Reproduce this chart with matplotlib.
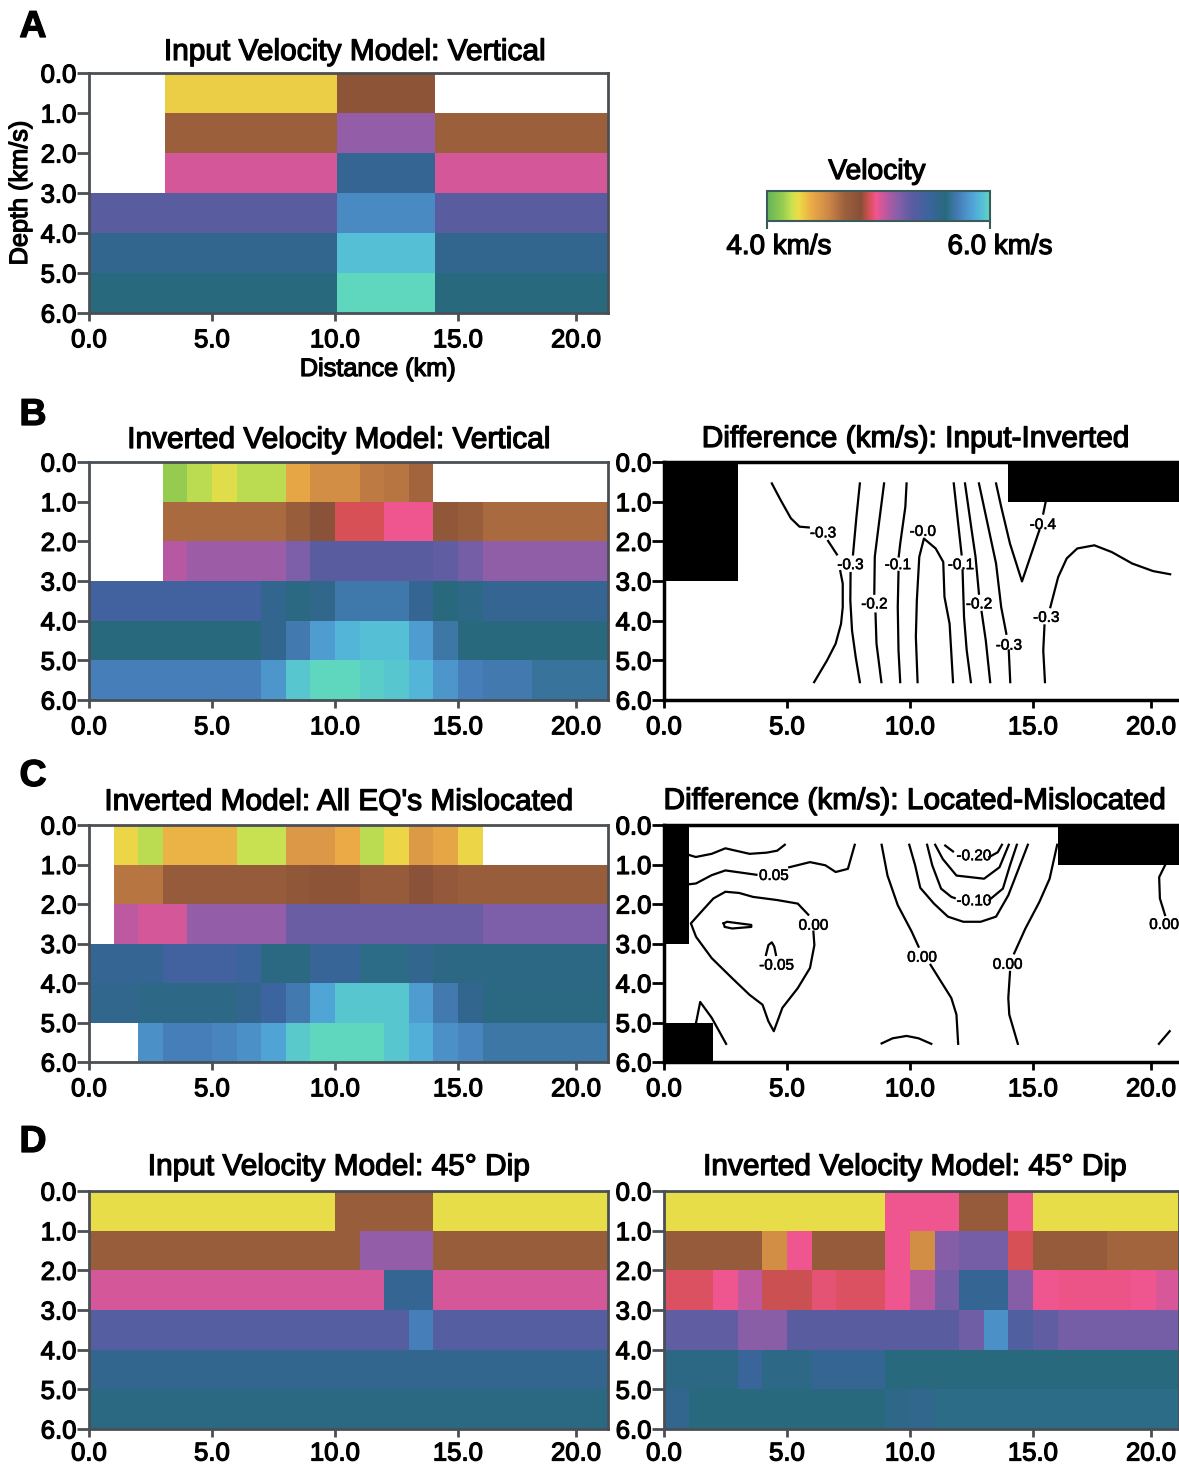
import numpy as np
import matplotlib
matplotlib.use('Agg')
import matplotlib.pyplot as plt
import matplotlib.patheffects as pe
from matplotlib.colors import LinearSegmentedColormap, ListedColormap, Normalize
from matplotlib.cm import ScalarMappable

plt.rcParams['font.family'] = ['Liberation Sans', 'DejaVu Sans']

W, H = 1179, 1467
PX_KM = 24.6
n = np.nan

# velocity colour scale (km/s -> colour)
scale_v = [4.0, 4.14, 4.22, 4.28, 4.4, 4.55, 4.7, 4.84, 4.92, 4.98, 5.1, 5.2, 5.3, 5.45, 5.6, 5.72, 5.85, 5.93, 6.0]
scale_c = ['#64b45a', '#96cd50', '#c8e150', '#ecdc46', '#ebaa46', '#cd8746', '#9b5f3c', '#875037', '#d75055',
           '#f05591', '#aa5aa5', '#7d5fa8', '#5a5ca0', '#3c649f', '#28697d', '#467db9', '#50a5d7', '#55bed7', '#5fd7be']

# velocity models, rows are 1 km depth layers, columns 1 km distance
a_input = [
    [n, n, n, 4.32, 4.32, 4.32, 4.32, 4.32, 4.32, 4.32, 4.8, 4.8, 4.8, 4.8, n, n, n, n, n, n, n],
    [n, n, n, 4.7, 4.7, 4.7, 4.7, 4.7, 4.7, 4.7, 5.15, 5.15, 5.15, 5.15, 4.7, 4.7, 4.7, 4.7, 4.7, 4.7, 4.7],
    [n, n, n, 5.03, 5.03, 5.03, 5.03, 5.03, 5.03, 5.03, 5.5, 5.5, 5.5, 5.5, 5.03, 5.03, 5.03, 5.03, 5.03, 5.03, 5.03],
    [5.3, 5.3, 5.3, 5.3, 5.3, 5.3, 5.3, 5.3, 5.3, 5.3, 5.76, 5.76, 5.76, 5.76, 5.3, 5.3, 5.3, 5.3, 5.3, 5.3, 5.3],
    [5.52, 5.52, 5.52, 5.52, 5.52, 5.52, 5.52, 5.52, 5.52, 5.52, 5.93, 5.93, 5.93, 5.93, 5.52, 5.52, 5.52, 5.52, 5.52, 5.52, 5.52],
    [5.6, 5.6, 5.6, 5.6, 5.6, 5.6, 5.6, 5.6, 5.6, 5.6, 6.0, 6.0, 6.0, 6.0, 5.6, 5.6, 5.6, 5.6, 5.6, 5.6, 5.6],
]
b_inverted = [
    [n, n, n, 4.14, 4.2, 4.26, 4.2, 4.2, 4.42, 4.52, 4.52, 4.6, 4.62, 4.68, n, n, n, n, n, n, n],
    [n, n, n, 4.66, 4.66, 4.66, 4.66, 4.66, 4.72, 4.82, 4.92, 4.92, 4.98, 4.98, 4.78, 4.72, 4.66, 4.66, 4.66, 4.66, 4.66],
    [n, n, n, 5.08, 5.13, 5.13, 5.13, 5.13, 5.2, 5.3, 5.3, 5.3, 5.3, 5.3, 5.28, 5.22, 5.16, 5.16, 5.16, 5.16, 5.16],
    [5.42, 5.42, 5.42, 5.42, 5.42, 5.42, 5.42, 5.52, 5.58, 5.54, 5.69, 5.69, 5.69, 5.5, 5.6, 5.56, 5.5, 5.5, 5.5, 5.5, 5.5],
    [5.6, 5.6, 5.6, 5.6, 5.6, 5.6, 5.6, 5.52, 5.7, 5.82, 5.9, 5.93, 5.93, 5.82, 5.68, 5.6, 5.6, 5.6, 5.6, 5.6, 5.6],
    [5.72, 5.72, 5.72, 5.72, 5.72, 5.72, 5.72, 5.8, 5.95, 6.0, 6.0, 5.97, 5.95, 5.9, 5.8, 5.72, 5.7, 5.7, 5.66, 5.66, 5.66],
]
c_mislocated = [
    [n, 4.3, 4.2, 4.38, 4.38, 4.38, 4.22, 4.22, 4.48, 4.48, 4.4, 4.2, 4.3, 4.47, 4.42, 4.3, n, n, n, n, n],
    [n, 4.62, 4.62, 4.74, 4.74, 4.74, 4.74, 4.74, 4.78, 4.8, 4.8, 4.74, 4.74, 4.82, 4.76, 4.72, 4.72, 4.72, 4.72, 4.72, 4.72],
    [n, 5.07, 5.03, 5.03, 5.15, 5.15, 5.15, 5.15, 5.25, 5.25, 5.25, 5.25, 5.25, 5.25, 5.25, 5.25, 5.2, 5.2, 5.2, 5.2, 5.2],
    [5.5, 5.5, 5.5, 5.42, 5.42, 5.42, 5.46, 5.58, 5.58, 5.48, 5.48, 5.62, 5.62, 5.52, 5.57, 5.57, 5.57, 5.57, 5.57, 5.57, 5.57],
    [5.53, 5.53, 5.56, 5.56, 5.56, 5.56, 5.52, 5.45, 5.7, 5.85, 5.95, 5.95, 5.95, 5.82, 5.7, 5.52, 5.58, 5.58, 5.58, 5.58, 5.58],
    [n, n, 5.78, 5.72, 5.72, 5.74, 5.78, 5.84, 5.96, 6.0, 6.0, 6.0, 5.95, 5.88, 5.78, 5.74, 5.68, 5.68, 5.68, 5.68, 5.68],
]
d_input = [
    [4.27, 4.27, 4.27, 4.27, 4.27, 4.27, 4.27, 4.27, 4.27, 4.27, 4.72, 4.72, 4.72, 4.72, 4.27, 4.27, 4.27, 4.27, 4.27, 4.27, 4.27],
    [4.72, 4.72, 4.72, 4.72, 4.72, 4.72, 4.72, 4.72, 4.72, 4.72, 4.72, 5.15, 5.15, 5.15, 4.72, 4.72, 4.72, 4.72, 4.72, 4.72, 4.72],
    [5.03, 5.03, 5.03, 5.03, 5.03, 5.03, 5.03, 5.03, 5.03, 5.03, 5.03, 5.03, 5.5, 5.5, 5.03, 5.03, 5.03, 5.03, 5.03, 5.03, 5.03],
    [5.33, 5.33, 5.33, 5.33, 5.33, 5.33, 5.33, 5.33, 5.33, 5.33, 5.33, 5.33, 5.33, 5.72, 5.33, 5.33, 5.33, 5.33, 5.33, 5.33, 5.33],
    [5.52, 5.52, 5.52, 5.52, 5.52, 5.52, 5.52, 5.52, 5.52, 5.52, 5.52, 5.52, 5.52, 5.52, 5.52, 5.52, 5.52, 5.52, 5.52, 5.52, 5.52],
    [5.58, 5.58, 5.58, 5.58, 5.58, 5.58, 5.58, 5.58, 5.58, 5.58, 5.58, 5.58, 5.58, 5.58, 5.58, 5.58, 5.58, 5.58, 5.58, 5.58, 5.58],
]
d_inverted = [
    [4.27, 4.27, 4.27, 4.27, 4.27, 4.27, 4.27, 4.27, 4.27, 4.98, 4.98, 4.98, 4.74, 4.74, 4.98, 4.27, 4.27, 4.27, 4.27, 4.27, 4.27],
    [4.74, 4.74, 4.74, 4.74, 4.52, 4.98, 4.74, 4.74, 4.74, 4.98, 4.52, 5.18, 5.22, 5.22, 4.92, 4.74, 4.74, 4.74, 4.68, 4.68, 4.68],
    [4.93, 4.93, 4.98, 5.07, 4.91, 4.91, 4.95, 4.93, 4.93, 4.98, 5.08, 5.22, 5.5, 5.5, 5.18, 4.98, 4.97, 4.97, 4.97, 4.98, 5.02],
    [5.28, 5.28, 5.28, 5.17, 5.17, 5.3, 5.3, 5.3, 5.3, 5.3, 5.3, 5.3, 5.24, 5.78, 5.35, 5.28, 5.22, 5.22, 5.22, 5.22, 5.22],
    [5.57, 5.57, 5.57, 5.47, 5.56, 5.56, 5.5, 5.5, 5.5, 5.6, 5.6, 5.6, 5.6, 5.6, 5.6, 5.6, 5.6, 5.6, 5.6, 5.6, 5.6],
    [5.52, 5.6, 5.6, 5.6, 5.6, 5.6, 5.6, 5.6, 5.6, 5.55, 5.53, 5.62, 5.62, 5.62, 5.62, 5.62, 5.62, 5.62, 5.62, 5.62, 5.62],
]

# contour lines: (distance km, depth km)
b_lines = [
    ([4.41, 4.77, 5.19, 5.54, 5.92], [0.54, 0.96, 1.42, 1.63, 1.65]),
    ([6.71, 7.07], [1.99, 2.33]),
    ([7.21, 7.31, 7.31, 7.24, 7.02, 6.67, 6.14], [2.75, 3.07, 3.66, 4.08, 4.58, 5.0, 5.55]),
    ([8.01, 7.87, 7.73], [0.54, 1.38, 2.33]),
    ([7.63, 7.62, 7.69, 7.84, 8.01], [2.8, 3.49, 4.25, 4.92, 5.55]),
    ([9.0, 8.79, 8.62, 8.6], [0.54, 1.55, 2.39, 3.32]),
    ([8.65, 8.69, 8.89], [3.82, 4.58, 5.55]),
    ([9.92, 9.87, 9.66, 9.6], [0.54, 1.13, 2.06, 2.38]),
    ([9.59, 9.56, 9.59, 9.66], [2.77, 3.66, 4.75, 5.55]),
    ([10.37, 10.3, 10.34, 10.44, 10.63, 11.11, 11.42, 11.47, 11.68, 11.82], [5.55, 4.41, 3.49, 2.39, 1.93, 2.18, 2.52, 3.4, 4.08, 5.55]),
    ([11.85, 12.03, 12.17], [0.54, 1.55, 2.33]),
    ([12.21, 12.27, 12.38, 12.55], [2.73, 3.91, 4.75, 5.55]),
    ([12.31, 12.6, 12.74, 12.88], [0.54, 1.8, 2.39, 3.32]),
    ([12.99, 13.16, 13.34], [3.78, 4.5, 5.55]),
    ([12.88, 13.23, 13.58, 13.79, 14.0], [0.54, 1.55, 2.56, 3.66, 4.33]),
    ([14.1, 14.16], [4.75, 5.55]),
    ([13.58, 13.79, 14.15, 14.64, 15.35], [0.54, 1.13, 2.06, 3.01, 1.72]),
    ([15.51, 15.6], [1.3, 1.03]),
    ([15.58, 15.51, 15.56], [5.55, 4.75, 4.12]),
    ([15.8, 16.12, 16.47, 16.9, 17.6, 18.31, 19.15, 20.0, 20.7], [3.66, 2.9, 2.43, 2.18, 2.1, 2.27, 2.56, 2.75, 2.83]),
]
b_labels = [
    (6.5, 1.8, '-0.3'), (7.62, 2.6, '-0.3'), (9.56, 2.6, '-0.1'), (10.58, 1.76, '-0.0'), (12.14, 2.6, '-0.1'),
    (8.6, 3.59, '-0.2'), (12.88, 3.59, '-0.2'), (15.63, 3.93, '-0.3'), (14.1, 4.63, '-0.3'), (15.49, 1.59, '-0.4'),
]
c_lines = [
    ([1.03, 1.3, 1.95, 2.51, 3.5, 4.2, 4.63, 4.94], [0.76, 0.81, 0.73, 0.59, 0.73, 0.7, 0.65, 0.5]),
    ([1.03, 1.31, 1.95, 2.51, 3.78], [1.5, 1.48, 1.27, 1.15, 1.26]),
    ([5.12, 5.97, 6.6, 7.02, 7.52, 7.8], [1.07, 0.94, 1.02, 1.19, 1.11, 0.5]),
    ([5.9, 5.47, 4.63, 3.64, 3.07, 2.51, 2.02, 1.52, 1.1, 1.31, 1.95, 2.79, 3.5, 4.03, 4.27, 4.49, 4.84, 5.47, 5.97, 6.15, 6.11],
     [2.27, 1.99, 1.9, 1.82, 1.72, 1.69, 1.86, 2.2, 2.49, 2.83, 3.37, 3.88, 4.3, 4.55, 4.97, 5.22, 4.63, 4.13, 3.62, 3.04, 2.7]),
    ([2.44, 2.58, 3.57, 3.57, 2.79, 2.48, 2.44], [2.49, 2.45, 2.53, 2.58, 2.62, 2.58, 2.49]),
    ([4.17, 4.27, 4.41, 4.51, 4.58], [3.29, 3.04, 2.97, 3.08, 3.29]),
    ([1.31, 1.48, 1.95, 2.54], [5.01, 4.48, 4.88, 5.54]),
    ([8.9, 9.14, 9.56, 10.13, 10.41], [0.5, 1.28, 2.03, 2.7, 3.08]),
    ([10.9, 11.75, 11.96, 12.03], [3.54, 4.38, 4.8, 5.54]),
    ([8.9, 9.35, 9.92, 10.41, 10.93], [5.53, 5.4, 5.34, 5.4, 5.54]),
    ([16.08, 15.77, 15.35, 14.78, 14.32], [0.5, 1.36, 1.95, 2.62, 3.25]),
    ([14.15, 14.08, 14.12, 14.47], [3.72, 4.38, 4.8, 5.54]),
    ([10.03, 10.27, 10.48, 11.04, 11.61, 12.24, 12.95, 13.58, 14.08, 14.5, 14.88], [0.5, 1.02, 1.59, 1.99, 2.32, 2.45, 2.45, 2.32, 1.78, 1.11, 0.5]),
    ([10.76, 10.97, 11.33, 11.75, 11.89], [0.5, 1.02, 1.61, 1.82, 1.85]),
    ([13.3, 13.86, 14.15, 14.43], [1.9, 1.61, 1.02, 0.5]),
    ([11.09, 11.4, 11.96, 13.09, 13.72, 14.1], [0.5, 0.86, 1.28, 1.36, 1.07, 0.5]),
    ([11.5, 11.82], [0.52, 0.67]),
    ([13.3, 13.65, 13.82], [0.81, 0.69, 0.5]),
    ([20.49, 20.25, 20.28, 20.49], [1.02, 1.32, 1.86, 2.28]),
    ([20.24, 20.68], [5.54, 5.22]),
]
c_labels = [
    (12.67, 0.79, '-0.20'), (12.67, 1.93, '-0.10'), (4.49, 1.29, '0.05'), (6.11, 2.55, '0.00'), (4.6, 3.56, '-0.05'),
    (10.55, 3.36, '0.00'), (14.05, 3.54, '0.00'), (20.45, 2.53, '0.00'),
]

# the scanned axis is a bit uneven, its last tick sits short of 20 km
x_tick_pos = [0, 5, 10, 15, 19.8]
x_tick_labels = ['0.0', '5.0', '10.0', '15.0', '20.0']
y_ticks = [0, 1, 2, 3, 4, 5, 6]
# contours were traced on a slightly wider km scale than the cells
trace_scale = 0.994

vel_cmap = LinearSegmentedColormap.from_list(
    'vel', [((v - 4.0) / 2.0, c) for v, c in zip(scale_v, scale_c)], N=512)
vel_norm = Normalize(4.0, 6.0)
bold = [pe.withStroke(linewidth=0.9, foreground='black')]
thin = [pe.withStroke(linewidth=0.4, foreground='black')]


def px_axes(x0, y0, x1, y1):
    return fig.add_axes([x0 / W, 1 - y1 / H, (x1 - x0) / W, (y1 - y0) / H])


def setup(ax, xmax, title, tx, color, sw, xpad):
    ax.set_xlim(0, xmax)
    ax.set_ylim(6, 0)
    ax.set_xticks(x_tick_pos)
    ax.set_yticks(y_ticks)
    ax.set_xticklabels(x_tick_labels, fontsize=18.5, path_effects=bold)
    ax.set_yticklabels(['%.1f' % t for t in y_ticks], fontsize=18.5, path_effects=bold)
    ax.tick_params(axis='x', length=6, width=2, pad=xpad, color=color)
    ax.tick_params(axis='y', length=9, width=2, pad=0, color=color)
    for s in ax.spines.values():
        s.set_color(color)
        s.set_linewidth(sw)
    fig.text(tx / W, 1 - title[1] / H, title[0], fontsize=21.5, ha='center', va='center', path_effects=bold)


def model(box, grid, title, tx, xpad=5, shift=0.0):
    ax = px_axes(*box)
    xmax = (box[2] - box[0]) / PX_KM
    edges = [0] + [i + shift for i in range(1, 21)] + [xmax]
    ax.pcolormesh(edges, range(7), np.ma.masked_invalid(grid), cmap=vel_cmap, norm=vel_norm)
    setup(ax, xmax, title, tx, '#4a4f55', 2, xpad)
    return ax


def diff(box, grid, lines, labels, title, tx, xpad=5):
    ax = px_axes(*box)
    xmax = (box[2] - box[0]) / PX_KM
    edges = list(range(21)) + [xmax]
    mask = np.isnan(np.array(grid)).astype(float)
    ax.pcolormesh(edges, range(7), np.ma.masked_equal(mask, 0), cmap=ListedColormap(['black']))
    for lx, ly in lines:
        ax.plot(np.array(lx) * trace_scale, ly, color='black', lw=1.6)
    for lx, ly, s in labels:
        ax.text(lx * trace_scale, ly, s, fontsize=11, ha='center', va='center', path_effects=thin)
    setup(ax, xmax, title, tx, 'black', 2.5, xpad)
    ax.spines['right'].set_visible(False)
    return ax


fig = plt.figure(figsize=(W / 100, H / 100), dpi=100)

model((89, 73, 608, 313), a_input, ('Input Velocity Model: Vertical', 52), 355, shift=0.08)
fig.text(378 / W, 1 - 369 / H, 'Distance (km)', fontsize=18.2, ha='center', va='center', path_effects=bold)
fig.text(20 / W, 1 - 193 / H, 'Depth (km/s)', fontsize=18.2, rotation=90, ha='center', va='center', path_effects=bold)

model((89, 462, 608, 700), b_inverted, ('Inverted Velocity Model: Vertical', 440), 339)
diff((664, 462, 1179, 700), b_inverted, b_lines, b_labels, ('Difference (km/s): Input-Inverted', 439), 916)

model((89, 825, 608, 1062), c_mislocated, ("Inverted Model: All EQ's Mislocated", 802), 339)
diff((664, 825, 1179, 1062), c_mislocated, c_lines, c_labels, ('Difference (km/s): Located-Mislocated', 801), 915)

model((89, 1191, 608, 1429), d_input, ('Input Velocity Model: 45° Dip', 1167), 339, xpad=3)
model((664, 1191, 1179, 1429), d_inverted, ('Inverted Velocity Model: 45° Dip', 1167), 915, xpad=3)

# colour bar
cax = px_axes(767, 191, 990, 221)
cb = fig.colorbar(ScalarMappable(norm=vel_norm, cmap=vel_cmap), cax=cax, orientation='horizontal', ticks=[4, 6])
cb.ax.set_xticklabels(['', ''])
cb.ax.tick_params(length=6, width=1.5, color='#3c5a5a')
cb.outline.set_edgecolor('#3c5a5a')
cb.outline.set_linewidth(1.5)
fig.text(877 / W, 1 - 172 / H, 'Velocity', fontsize=20.3, ha='center', va='center', path_effects=bold)
fig.text(779 / W, 1 - 247 / H, '4.0 km/s', fontsize=20, ha='center', va='center', path_effects=bold)
fig.text(1000 / W, 1 - 247 / H, '6.0 km/s', fontsize=20, ha='center', va='center', path_effects=bold)

# panel letters
for letter, py in [('A', 27), ('B', 415), ('C', 776), ('D', 1142)]:
    fig.text(33 / W, 1 - py / H, letter, fontsize=27, fontweight='bold', ha='center', va='center', path_effects=bold)

fig.savefig('out.png', dpi=100)
